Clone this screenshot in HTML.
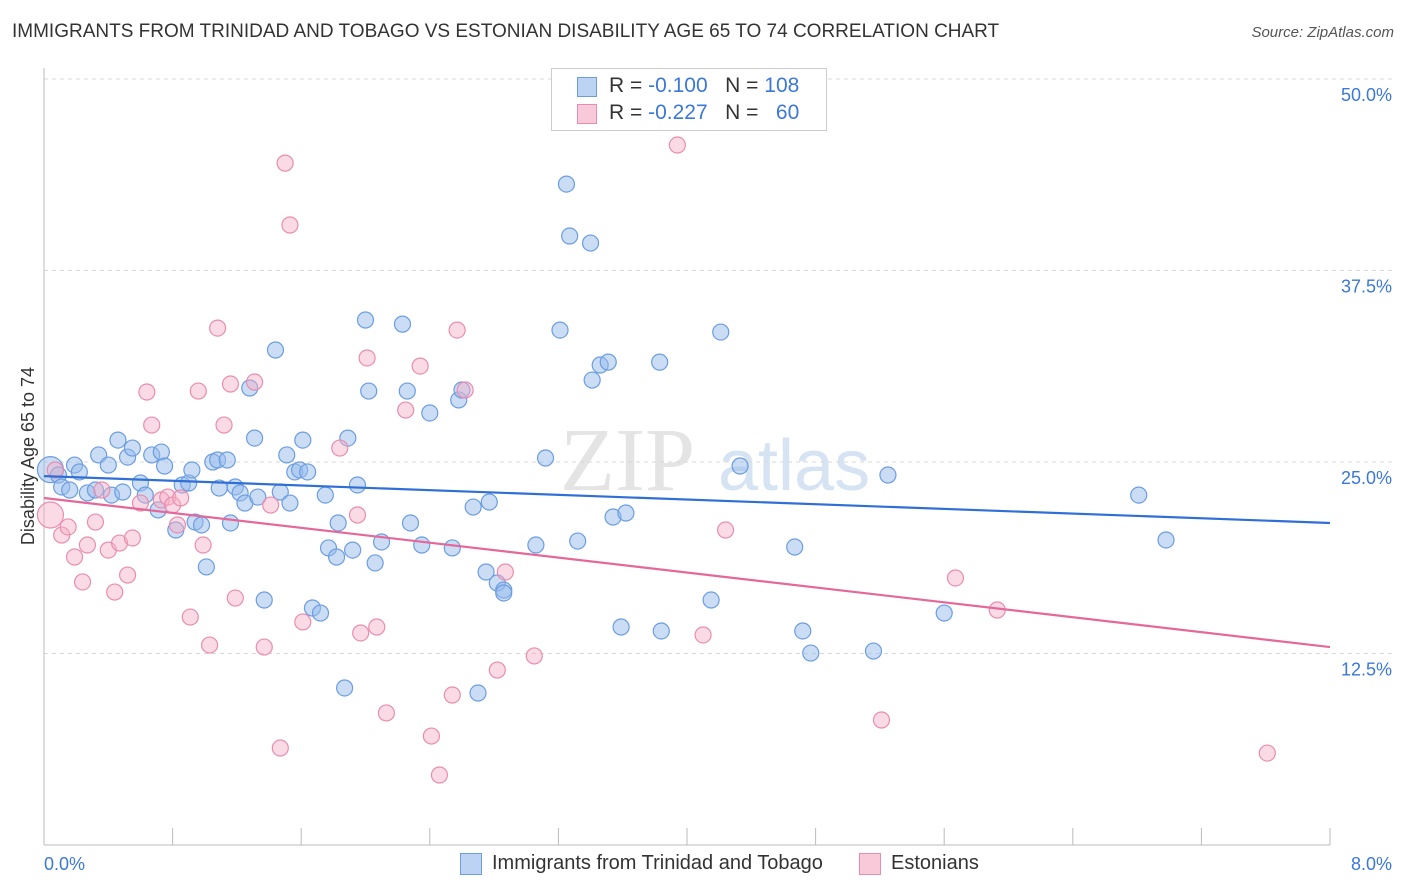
<!DOCTYPE html>
<html><head><meta charset="utf-8"><style>
body{margin:0;background:#fff;font-family:"Liberation Sans",sans-serif;}
#wrap{position:relative;width:1406px;height:892px;overflow:hidden;}
.t{position:absolute;white-space:nowrap;}
</style></head><body>
<div id="wrap">
<div class="t" style="left:12px;top:21px;font-size:19px;color:#333;">IMMIGRANTS FROM TRINIDAD AND TOBAGO VS ESTONIAN DISABILITY AGE 65 TO 74 CORRELATION CHART</div>
<div class="t" style="right:12px;top:24px;font-size:15px;color:#555;font-style:italic;">Source: ZipAtlas.com</div>
<svg id="svg" width="1406" height="892" style="position:absolute;left:0;top:0"></svg>
</div>
<script>
const xTicksPct=[0,0.8,1.6,2.4,3.2,4.0,4.8,5.6,6.4,7.2,8.0];
const yTicks=[12.5,25,37.5,50];
const yTickLabels=["12.5%","25.0%","37.5%","50.0%"];
const blueX=[.04,.09,.11,.16,.19,.22,.27,.32,.34,.40,.42,.46,.49,.52,.55,.60,.63,.67,.71,.73,.75,.82,.86,.90,.92,.94,.98,1.01,1.05,1.08,1.09,1.14,1.16,1.19,1.22,1.25,1.28,1.31,1.33,1.37,1.44,1.47,1.51,1.53,1.56,1.59,1.61,1.64,1.67,1.72,1.75,1.77,1.82,1.83,1.87,1.89,1.92,1.95,2.0,2.02,2.06,2.10,2.23,2.26,2.28,2.35,2.40,2.54,2.58,2.60,2.67,2.75,2.77,2.82,2.86,2.86,2.70,3.06,3.12,3.21,3.25,3.27,3.32,3.40,3.41,3.46,3.51,3.54,3.59,3.62,3.83,3.84,4.15,4.21,4.33,4.67,4.72,4.77,5.16,5.25,5.60,6.81,6.98];
const blueY=[24.5,24.15,23.37,23.17,24.8,24.35,22.98,23.17,25.46,24.8,22.84,26.43,23.04,25.32,25.91,23.63,22.84,25.46,21.87,25.65,24.74,20.56,23.5,23.63,24.48,21.08,20.89,18.15,25.0,25.13,23.3,25.13,21.02,23.37,22.98,22.32,29.83,26.56,22.71,15.99,32.31,23.04,25.46,22.32,24.35,24.48,26.43,24.35,15.47,15.14,22.84,19.39,18.8,21.02,10.25,26.56,19.25,23.5,34.27,29.63,18.41,19.78,34.0,29.63,21.02,19.58,28.2,19.39,29.05,29.7,22.06,17.82,22.39,17.1,16.64,16.45,9.92,19.58,25.26,33.61,43.14,39.75,19.84,39.29,30.35,31.33,31.52,21.41,14.23,21.67,31.52,13.97,15.99,33.48,24.74,19.45,13.97,12.53,12.66,24.15,15.14,22.84,19.91];
const pinkX=[.04,.07,.11,.15,.19,.24,.27,.32,.36,.40,.44,.47,.52,.55,.60,.64,.67,.73,.77,.80,.83,.85,.91,.96,.99,1.03,1.08,1.12,1.16,1.19,1.31,1.37,1.41,1.47,1.50,1.53,1.61,1.84,1.95,1.97,2.01,2.07,2.13,2.25,2.34,2.41,2.46,2.54,2.57,2.62,2.82,2.87,3.05,3.94,4.10,4.24,5.21,5.67,5.93,7.61];
const pinkY=[21.54,24.48,20.23,20.76,18.8,17.17,19.58,21.08,23.17,19.25,16.51,19.71,17.62,20.04,22.32,29.57,27.41,22.52,22.71,22.19,20.89,22.65,14.88,29.63,19.58,13.05,33.74,27.41,30.09,16.12,30.22,12.92,22.19,6.33,44.51,40.47,14.56,25.91,21.54,13.84,31.79,14.23,8.62,28.39,31.26,7.11,4.57,9.79,33.61,29.7,11.42,17.82,12.34,45.69,13.71,20.56,8.16,17.43,15.34,6.0];
const blueTrend=[24.08,21.02];
const pinkTrend=[22.65,12.92];

const X0=44,X1=1330,Y0=845,YTOP=79;
const sx=v=>X0+(v/8)*(X1-X0);
const sy=v=>Y0-(v/50)*(Y0-YTOP);
const svg=document.getElementById('svg');
const NS='http://www.w3.org/2000/svg';
function mk(tag,a){const e=document.createElementNS(NS,tag);for(const k in a)e.setAttribute(k,a[k]);svg.appendChild(e);return e;}

let wm=mk('text',{x:560,y:490,'font-size':90,'font-family':'Liberation Serif, serif',fill:'#e4e4e4'});wm.textContent='ZIP';


let wm2=mk('text',{x:718,y:490,'font-size':72,'font-family':'Liberation Sans, sans-serif',fill:'#d6e3f3'});wm2.textContent='atlas';



yTicks.forEach((v,i)=>{
 const g=mk('line',{x1:X0,x2:1392,y1:sy(v),y2:sy(v),stroke:'#d8d8d8','stroke-dasharray':'4,4'});
 
 
 const t=mk('text',{x:1392,y:sy(v)+22,'text-anchor':'end','font-size':18,fill:'#3b78d8','font-family':'Liberation Sans, sans-serif'});
 t.textContent=yTickLabels[i];
 
 
});
let ax=mk('line',{x1:X0,x2:X0,y1:68,y2:Y0,stroke:'#bbb'});


let axx=mk('line',{x1:X0,x2:X1,y1:Y0,y2:Y0,stroke:'#bbb'});


xTicksPct.forEach(v=>{
 const l=mk('line',{x1:sx(v),x2:sx(v),y1:828,y2:Y0,stroke:'#bbb'});
 
 
});
let xl=mk('text',{x:44,y:870,'font-size':18,fill:'#3b78d8','font-family':'Liberation Sans, sans-serif'});xl.textContent='0.0%';


let xr=mk('text',{x:1392,y:870,'text-anchor':'end','font-size':18,fill:'#3b78d8','font-family':'Liberation Sans, sans-serif'});xr.textContent='8.0%';


let yt=mk('text',{x:34,y:456,'text-anchor':'middle','font-size':18,fill:'#333',transform:'rotate(-90 34 456)','font-family':'Liberation Sans, sans-serif'});yt.textContent='Disability Age 65 to 74';



function pts(xs,ys,fill,stroke,name){
 xs.forEach((x,i)=>{
  const c=mk('circle',{cx:sx(x),cy:sy(ys[i]),r:i===0?13:8,fill:fill,stroke:stroke,'stroke-width':1.2});
  
  
 });
}
pts(blueX,blueY,'rgba(150,188,236,0.5)','#6c9de0','point-trinidad');
pts(pinkX,pinkY,'rgba(245,175,198,0.45)','#e98db0','point-estonian');
let bl=mk('line',{x1:sx(0),x2:sx(8),y1:sy(blueTrend[0]),y2:sy(blueTrend[1]),stroke:'#2f6fd6','stroke-width':2.2});


let pl=mk('line',{x1:sx(0),x2:sx(8),y1:sy(pinkTrend[0]),y2:sy(pinkTrend[1]),stroke:'#e4689a','stroke-width':2.2});


</script>
<div class="t" style="left:551px;top:68px;width:274px;height:61px;border:1px solid #ccc;background:#fff;">
 <div class="t" style="left:25px;top:8px;width:18px;height:18px;background:#bcd3f3;border:1px solid #6c9de0;"></div>
 <div class="t" style="left:57px;top:5px;font-size:21px;color:#333;">R = <span style="color:#3b78d8">-0.100</span>&nbsp;&nbsp;&nbsp;N = <span style="color:#3b78d8">108</span></div>
 <div class="t" style="left:25px;top:35px;width:18px;height:18px;background:#f8cad9;border:1px solid #e98db0;"></div>
 <div class="t" style="left:57px;top:32px;font-size:21px;color:#333;">R = <span style="color:#3b78d8">-0.227</span>&nbsp;&nbsp;&nbsp;N = <span style="color:#3b78d8">&nbsp;&nbsp;60</span></div>
</div>
<div class="t" style="left:460px;top:853px;width:20px;height:20px;background:#bcd3f3;border:1px solid #6c9de0;"></div>
<div class="t" style="left:492px;top:852px;font-size:20px;color:#333;">Immigrants from Trinidad and Tobago</div>
<div class="t" style="left:859px;top:853px;width:20px;height:20px;background:#f8cad9;border:1px solid #e98db0;"></div>
<div class="t" style="left:891px;top:852px;font-size:20px;color:#333;">Estonians</div>
</body></html>
